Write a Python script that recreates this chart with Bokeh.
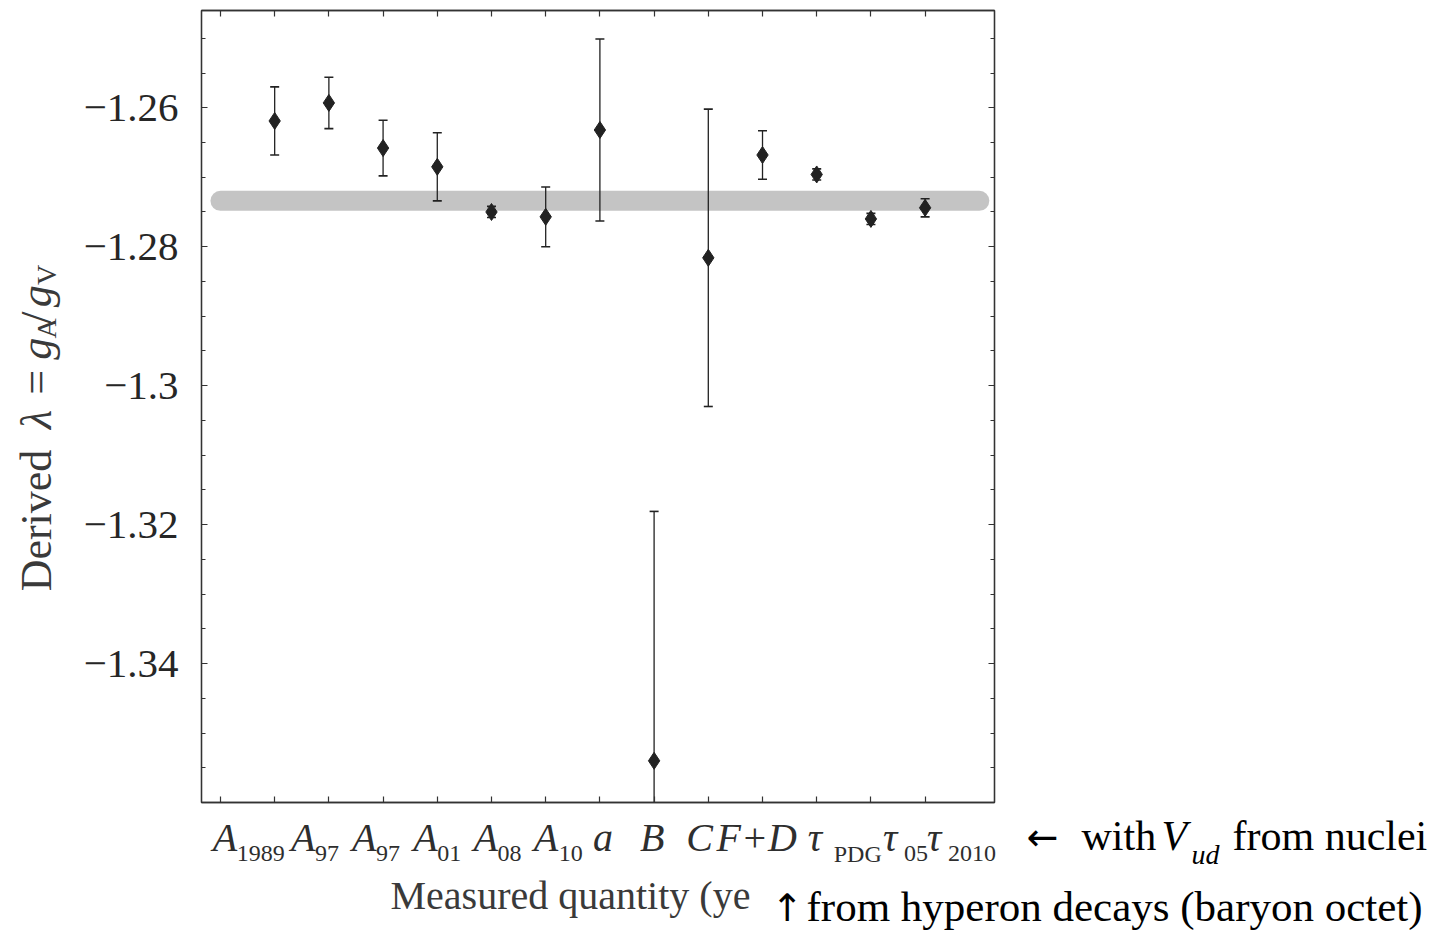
import math
import numpy as np
from bokeh.plotting import figure
from bokeh.layouts import column, row
from bokeh.models import (ColumnDataSource, FixedTicker, LinearAxis, Range1d,
                          CustomJSTickFormatter)
from bokeh.core.properties import value
from bokeh.embed import file_html
from bokeh.resources import INLINE

# ---------------- data ----------------
positions = [1, 2, 3, 4, 5, 6, 7, 8, 9, 10, 11, 12, 13]
main_labels = ["A", "A", "A", "A", "A", "A", "a", "B", "C", "F+D", "τ", "τ", "τ"]
sub_labels = ["1989", "97", "97", "01", "08", "10", "", "", "", "", "PDG", "05", "2010"]
lam_values = [-1.2619, -1.2593, -1.2658, -1.2685, -1.2750, -1.2757, -1.2632,
              -1.3540, -1.2816, -1.2668, -1.2696, -1.2760, -1.2744]
lam_errors = [0.0049, 0.0037, 0.0040, 0.0049, 0.0008, 0.0043, 0.0131,
              0.0359, 0.0214, 0.0035, 0.0008, 0.0008, 0.0013]
band_value = -1.2734
band_span = [0, 14]
y_major_ticks = [-1.34, -1.32, -1.30, -1.28, -1.26]
y_minor_ticks = [-1.36, -1.355, -1.35, -1.345, -1.335, -1.33, -1.325, -1.315,
                 -1.31, -1.305, -1.295, -1.29, -1.285, -1.275, -1.27, -1.265,
                 -1.255, -1.25]
x_ticks = [0, 1, 2, 3, 4, 5, 6, 7, 8, 9, 10, 11, 12, 13]

# ---------------- geometry / style ----------------
W, H = 1445, 932
FL, FR, FT, FB = 201, 994, 10, 802       # plot frame in page pixels
TOP_H = 814                              # height of upper row
YL_W = 72                                # width of the y-title strip
BOT_H = H - TOP_H
XR = (-0.35, 14.28)
YR = (-1.36, -1.246)
BASE_K = 0.32                            # baseline correction (fraction of font size)


def dx(px):
    return XR[0] + (px - FL) / (FR - FL) * (XR[1] - XR[0])


SERIF = "Liberation Serif"
INK = "#222222"
TXT = "#2e2e2e"


def blank_fig(w, h, xr, yr):
    f = figure(width=w, height=h, x_range=Range1d(*xr), y_range=Range1d(*yr),
               output_backend="svg", toolbar_location=None,
               x_axis_type=None, y_axis_type=None, min_border=0,
               background_fill_color="white", border_fill_color="white")
    f.outline_line_color = None
    f.xgrid.visible = False
    f.ygrid.visible = False
    return f


def put(f, x, y, text, size, style="normal", color=TXT, angle=0.0, x_offset=0,
        font=SERIF):
    shift = BASE_K * size
    if angle == 0.0:
        y = y + shift
    else:
        x = x - shift
    src = ColumnDataSource(dict(x=[x], y=[y], t=[text], xo=[x_offset]))
    f.text(x="x", y="y", text="t", x_offset="xo", source=src, angle=angle,
           text_font=value(font), text_font_size=value(f"{size}px"),
           text_font_style=value(style), text_color=color,
           text_align=value("left"), text_baseline=value("alphabetic"))


# ---------------- main plot ----------------
p = figure(width=W - YL_W, height=TOP_H, x_range=Range1d(*XR), y_range=Range1d(*YR),
           output_backend="svg", toolbar_location=None,
           min_border_left=FL - YL_W, min_border_right=W - FR,
           min_border_top=FT, min_border_bottom=TOP_H - FB,
           background_fill_color="white", border_fill_color="white")
p.xgrid.visible = False
p.ygrid.visible = False
p.outline_line_color = "#333333"
p.outline_line_width = 1.3

blank = CustomJSTickFormatter(code="return ''")
minus_fmt = CustomJSTickFormatter(code="return '\u2212' + Math.abs(tick).toString()")

xb = p.xaxis[0]
yl = p.yaxis[0]
xt = LinearAxis()
yr = LinearAxis()
p.add_layout(xt, "above")
p.add_layout(yr, "right")

for ax in (xb, xt):
    ax.ticker = FixedTicker(ticks=x_ticks)
    ax.formatter = blank
for ax in (yl, yr):
    ax.ticker = FixedTicker(ticks=y_major_ticks, minor_ticks=y_minor_ticks)
yr.formatter = blank
yl.formatter = minus_fmt
yl.major_label_text_font = SERIF
yl.major_label_text_font_size = "41px"
yl.major_label_text_color = "#262626"
yl.major_label_standoff = 23

for ax in (xb, xt, yl, yr):
    ax.axis_line_color = "#333333"
    ax.axis_line_width = 1.3
    ax.major_tick_in = 6
    ax.major_tick_out = 0
    ax.minor_tick_in = 4
    ax.minor_tick_out = 0
    ax.major_tick_line_color = "#333333"
    ax.minor_tick_line_color = "#333333"
    ax.major_tick_line_width = 1.2
    ax.minor_tick_line_width = 1.0
for ax in (xt, yr, xb):
    ax.major_label_text_font_size = "1px"
    ax.major_label_standoff = 0

lam = np.array(lam_values)
err = np.array(lam_errors)
src = ColumnDataSource(dict(x=positions, lam=lam, lo=lam - err, hi=lam + err))

p.line(x=band_span, y=[band_value, band_value], line_width=20,
       line_color="#c4c4c4", line_cap="round")
p.segment(x0="x", y0="lo", x1="x", y1="hi", source=src,
          line_color=INK, line_width=1.3)
p.scatter(x="x", y="lo", source=src, marker="dash", size=9,
          line_color=INK, line_width=1.6)
p.scatter(x="x", y="hi", source=src, marker="dash", size=9,
          line_color=INK, line_width=1.6)
p.scatter(x="x", y="lam", source=src, marker="diamond", size=17,
          fill_color=INK, line_color=INK)

# ---------------- y title strip ----------------
ylab = blank_fig(YL_W, TOP_H, (0, YL_W), (0, TOP_H))
ylab_parts = [
    # text, start_py, baseline_px, size, style
    ("Derived", 597, 50, 44, "normal"),
    ("λ", 430, 50, 44, "italic"),
    ("=", 395, 50, 44, "normal"),
    ("g", 359, 50, 44, "italic"),
    ("A", 337, 55, 28, "normal"),
    ("/", 322, 50, 44, "normal"),
    ("g", 305, 50, 44, "italic"),
    ("V", 282, 55, 28, "normal"),
]
for t, py, bx, fs, st in ylab_parts:
    put(ylab, bx, TOP_H - py, t, fs, st, color="#3a3a3a", angle=math.pi / 2)

# ---------------- bottom strip ----------------
bot = blank_fig(W, BOT_H, (dx(0), dx(W)), (0, BOT_H))


def by(py):
    return H - py


main_off = [-62, -38, -31, -24, -18, -12, -7, -14, -22, -46, -9, 12, 2]
sub_off = [-38, -14, -7, 0, 6, 13, 0, 0, 0, 0, 17, 33, 23]
for i, xpos in enumerate(positions):
    put(bot, xpos, by(850), main_labels[i], 40, "italic", x_offset=main_off[i])
    if sub_labels[i]:
        put(bot, xpos, by(861), sub_labels[i], 24, x_offset=sub_off[i])

put(bot, dx(390), by(908), "Measured quantity (ye", 40, color="#3a3a3a")

put(bot, dx(1026), by(849), "←", 38, color="black", font="DejaVu Sans")
put(bot, dx(1081), by(849), "with", 42, color="black")
put(bot, dx(1161), by(849), "V", 42, "italic", color="black")
put(bot, dx(1191), by(863), "ud", 28, "italic", color="black")
put(bot, dx(1232), by(849), "from nuclei", 42, color="black")
put(bot, dx(771), by(920), "↑", 38, color="black", font="DejaVu Sans")
put(bot, dx(806), by(920), "from hyperon decays (baryon octet)", 43, color="black")

layout = column(row(ylab, p, spacing=0), bot, spacing=0)
open("out.html", "w").write(file_html(layout, INLINE))
